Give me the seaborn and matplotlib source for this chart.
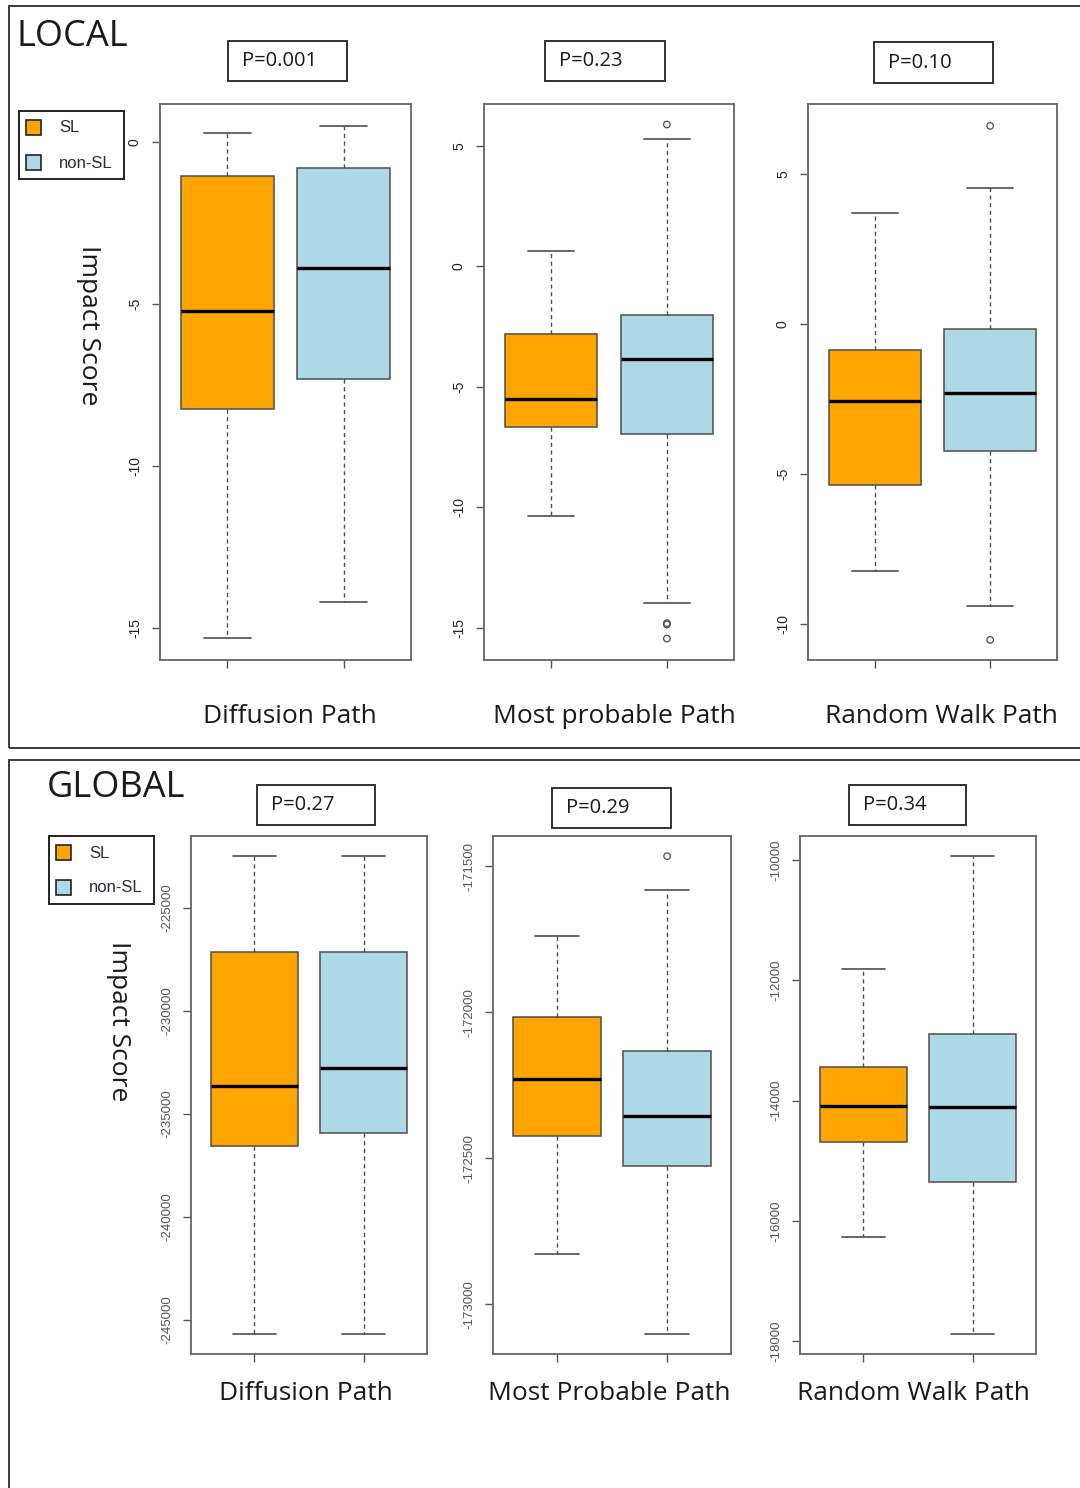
import numpy as np
import pandas as pd
import matplotlib
matplotlib.use("Agg")
import matplotlib.pyplot as plt
from matplotlib.patches import Rectangle
import seaborn as sns

# ---------------- data ----------------
groups = ["SL", "non-SL"]
palette = {"SL": "#FFA500", "non-SL": "#ADD8E6"}

local_paths = ["Diffusion Path", "Most probable Path", "Random Walk Path"]
global_paths = ["Diffusion Path", "Most Probable Path", "Random Walk Path"]
local_pvals = ["P=0.001", "P=0.23", "P=0.10"]
global_pvals = ["P=0.27", "P=0.29", "P=0.34"]

# five-number summaries: [lower whisker, Q1, median, Q3, upper whisker]
local_diff_sl = [-15.29, -8.25, -5.23, -1.05, 0.28]
local_diff_non = [-14.18, -7.32, -3.88, -0.80, 0.49]
local_mpp_sl = [-10.37, -6.68, -5.48, -2.82, 0.62]
local_mpp_non = [-13.98, -6.97, -3.86, -2.03, 5.27]
local_rwp_sl = [-8.23, -5.37, -2.57, -0.87, 3.70]
local_rwp_non = [-9.40, -4.23, -2.30, -0.17, 4.53]

global_diff_sl = [-245680, -236553, -233641, -227136, -222476]
global_diff_non = [-245680, -235922, -232767, -227136, -222476]
global_mpp_sl = [-172829, -172425, -172229, -172017, -171740]
global_mpp_non = [-173103, -172527, -172356, -172134, -171582]
global_rwp_sl = [-16270, -14690, -14092, -13443, -11813]
global_rwp_non = [-17884, -15356, -14108, -12894, -9933]

# outliers (non-SL only)
local_mpp_non_out = [5.89, -14.80, -14.86, -15.44]
local_rwp_non_out = [6.60, -10.53]
global_mpp_non_out = [-171466]

# axis ranges and ticks
local_ylims = [(-15.98, 1.17), (-16.33, 6.74), (-11.2, 7.33)]
local_yticks = [[0, -5, -10, -15], [5, 0, -5, -10, -15], [5, 0, -5, -10]]
global_ylims = [(-246650, -221505), (-173171, -171397), (-18216, -9601)]
global_yticks = [[-225000, -230000, -235000, -240000, -245000],
                 [-171500, -172000, -172500, -173000],
                 [-10000, -12000, -14000, -16000, -18000]]

local_sets = [(local_diff_sl, local_diff_non, []),
              (local_mpp_sl, local_mpp_non, local_mpp_non_out),
              (local_rwp_sl, local_rwp_non, local_rwp_non_out)]
global_sets = [(global_diff_sl, global_diff_non, []),
               (global_mpp_sl, global_mpp_non, global_mpp_non_out),
               (global_rwp_sl, global_rwp_non, [])]

# ---------------- layout ----------------
W, H = 1080, 1488
DPI = 100
sns.set_theme(style="white")
plt.rcParams["font.family"] = ["Open Sans", "DejaVu Sans"]

fig = plt.figure(figsize=(W / DPI, H / DPI), dpi=DPI)
fig.patch.set_facecolor("white")


def fx(x):
    return x / W


def fy(y):
    return 1 - y / H


def add_axes_px(x0, y0, x1, y1):
    return fig.add_axes([fx(x0), fy(y1), fx(x1 - x0), (y1 - y0) / H])


# outer frames
for (x0, y0, x1, y1) in [(9, 6, 1090, 748), (9, 760, 1090, 1498)]:
    fig.patches.append(Rectangle((fx(x0), fy(y1)), fx(x1 - x0), (y1 - y0) / H,
                                 transform=fig.transFigure, fill=False,
                                 edgecolor="#3a3a3a", lw=1.4, zorder=0))

local_axes_px = [(160, 104, 411, 660), (484, 104, 734, 660), (808, 104, 1057, 660)]
global_axes_px = [(191, 836, 427, 1354), (493, 836, 731, 1354), (800, 836, 1036, 1354)]
local_pbox = [(228, 41, 347, 81), (545, 41, 665, 81), (874, 42, 993, 83)]
global_pbox = [(257, 785, 375, 825), (552, 788, 671, 828), (849, 785, 966, 825)]
local_label_x = [0.518, 0.52, 0.534]
global_label_x = [0.487, 0.487, 0.479]


def draw_panel(axpx, stats, ylim, yticks, xlabel, tick_fs, label_color, labelpad, lx):
    sl, non, outl = stats
    df = pd.DataFrame({
        "group": ["SL"] * len(sl) + ["non-SL"] * len(non),
        "value": list(sl) + list(non),
    })
    ax = add_axes_px(*axpx)
    sns.boxplot(data=df, x="group", y="value", hue="group", order=groups,
                hue_order=groups, palette=palette, width=0.8, whis=(0, 100),
                showfliers=False, legend=False, ax=ax, saturation=1,
                linecolor="#4d4d4d", linewidth=1.1,
                medianprops=dict(color="black", lw=2.4),
                whiskerprops=dict(color="#4d4d4d", lw=1.0, linestyle=(0, (3, 2.5))),
                capprops=dict(color="#4d4d4d", lw=1.2))
    if outl:
        sns.scatterplot(x=[1] * len(outl), y=outl, ax=ax, marker="o", s=22,
                        facecolors="none", edgecolor="#4d4d4d", linewidth=0.9,
                        legend=False)
    ax.set_xlim(-0.58, 1.58)
    ax.set_ylim(*ylim)
    ax.set_yticks(yticks)
    ax.set_yticklabels([str(t) for t in yticks], rotation=90,
                       va="center", fontsize=tick_fs, color=label_color,
                       family=["Liberation Sans", "DejaVu Sans"])
    ax.set_xticks([0, 1])
    ax.set_xticklabels(["", ""])
    ax.tick_params(axis="both", which="both", direction="out", length=6,
                   width=1.0, color="#555555", left=True, bottom=True)
    ax.tick_params(axis="y", pad=7)
    for sp in ax.spines.values():
        sp.set_visible(True)
        sp.set_color("#666666")
        sp.set_linewidth(1.3)
    ax.set_ylabel("")
    ax.set_xlabel(xlabel, fontsize=19, color="#1a1a1a", labelpad=labelpad)
    ax.xaxis.label.set_x(lx)
    ax.set_facecolor("white")
    return ax


for i in range(3):
    draw_panel(local_axes_px[i], local_sets[i], local_ylims[i], local_yticks[i],
               local_paths[i], 10, "#222222", 22, local_label_x[i])
    draw_panel(global_axes_px[i], global_sets[i], global_ylims[i], global_yticks[i],
               global_paths[i], 9.5, "#555555", 10, global_label_x[i])


def pbox(box, txt):
    x0, y0, x1, y1 = box
    fig.patches.append(Rectangle((fx(x0), fy(y1)), fx(x1 - x0), (y1 - y0) / H,
                                 transform=fig.transFigure, fill=False,
                                 edgecolor="#222222", lw=1.3))
    fig.text(fx(x0 + 14), fy((y0 + y1) / 2), txt, ha="left", va="center",
             fontsize=14.5, color="#1a1a1a")


for b, t in zip(local_pbox, local_pvals):
    pbox(b, t)
for b, t in zip(global_pbox, global_pvals):
    pbox(b, t)

# panel titles
fig.text(fx(17), fy(37), "LOCAL", ha="left", va="center", fontsize=26, color="#1a1a1a")
fig.text(fx(47), fy(788), "GLOBAL", ha="left", va="center", fontsize=26, color="#1a1a1a")

# Impact Score labels
fig.text(fx(88), fy(325), "Impact Score", rotation=270, ha="center", va="center",
         fontsize=19, color="#1a1a1a")
fig.text(fx(118), fy(1021), "Impact Score", rotation=270, ha="center", va="center",
         fontsize=19, color="#1a1a1a")


# legends
def legend_box(x0, y0):
    x1, y1 = x0 + 105, y0 + 68
    fig.patches.append(Rectangle((fx(x0), fy(y1)), fx(x1 - x0), (y1 - y0) / H,
                                 transform=fig.transFigure, fill=False,
                                 edgecolor="#222222", lw=1.4))
    for k, g in enumerate(groups):
        cy = y0 + 16 + k * 35
        fig.patches.append(Rectangle((fx(x0 + 7), fy(cy + 8)), fx(15), 15 / H,
                                     transform=fig.transFigure, facecolor=palette[g],
                                     edgecolor="#222222", lw=1.2))
        fig.text(fx(x0 + 40), fy(cy + 1), g, ha="left", va="center", fontsize=12,
                 color="#2a2a3a", family=["Liberation Sans", "DejaVu Sans"])


legend_box(19, 111)
legend_box(49, 836)

fig.savefig("out.png", dpi=DPI, facecolor="white")
